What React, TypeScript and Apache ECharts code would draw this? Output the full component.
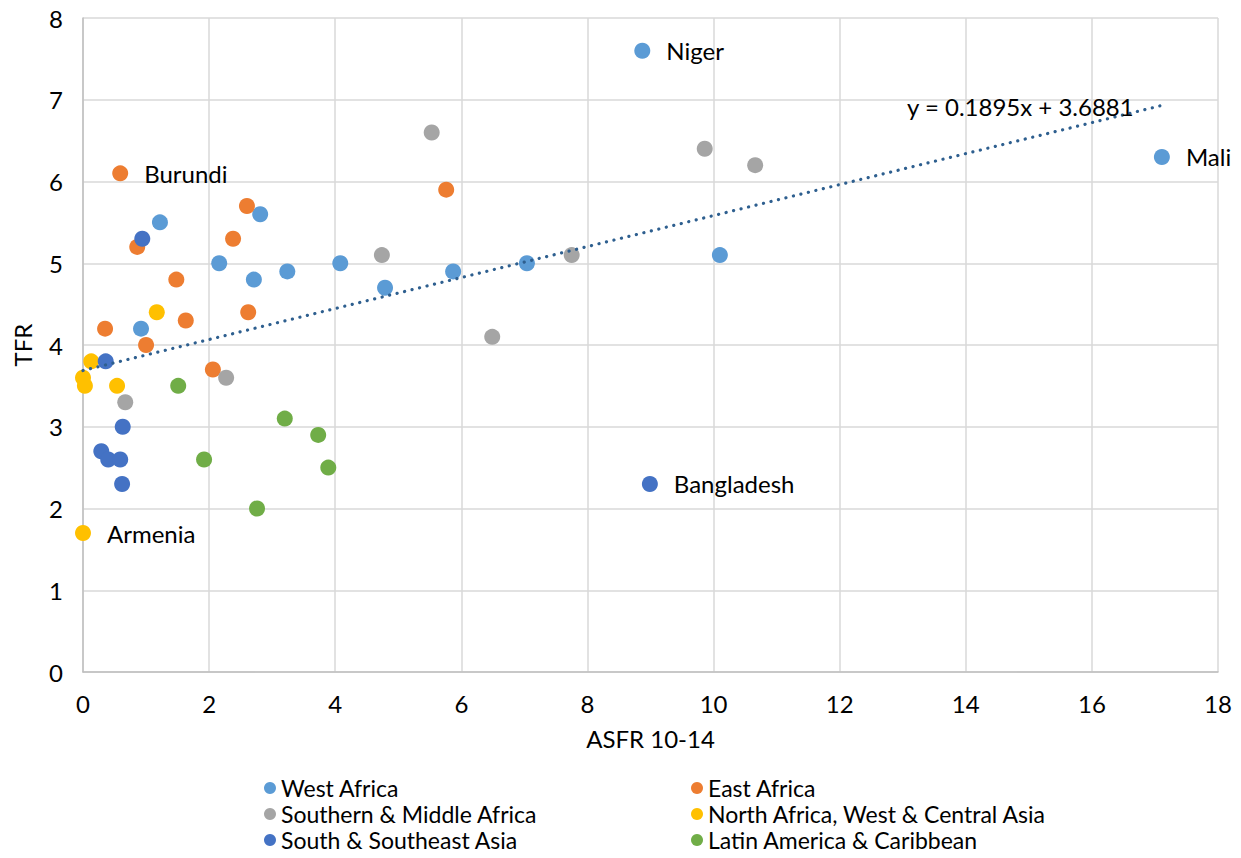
import React, { useEffect, useRef } from "react";
import * as echarts from "echarts";

const FONT = "Lato, 'Open Sans', sans-serif";
const FS = 24;

const seriesNames = [
  "West Africa",
  "East Africa",
  "Southern & Middle Africa",
  "North Africa, West & Central Asia",
  "South & Southeast Asia",
  "Latin America & Caribbean",
];
const colors = ["#5B9BD5", "#ED7D31", "#A5A5A5", "#FFC000", "#4472C4", "#70AD47"];

// [ASFR 10-14, TFR, label]
const westAfrica: [number, number, string?][] = [
  [8.87, 7.6, "Niger"], [17.11, 6.3, "Mali"], [1.22, 5.5], [2.81, 5.6], [2.16, 5.0],
  [2.71, 4.8], [3.24, 4.9], [4.08, 5.0], [4.79, 4.7], [5.87, 4.9], [7.04, 5.0],
  [10.1, 5.1], [0.92, 4.2],
];
const eastAfrica: [number, number, string?][] = [
  [0.59, 6.1, "Burundi"], [5.76, 5.9], [2.6, 5.7], [2.38, 5.3], [0.86, 5.2], [1.48, 4.8],
  [1.63, 4.3], [2.62, 4.4], [0.35, 4.2], [1.0, 4.0], [2.06, 3.7],
];
const southernMiddleAfrica: [number, number, string?][] = [
  [5.53, 6.6], [9.86, 6.4], [10.66, 6.2], [4.74, 5.1], [7.75, 5.1], [6.49, 4.1],
  [2.27, 3.6], [0.67, 3.3],
];
const northAfricaAsia: [number, number, string?][] = [
  [1.17, 4.4], [0.13, 3.8], [0.0, 3.6], [0.03, 3.5], [0.54, 3.5], [0.0, 1.7, "Armenia"],
];
const southAsia: [number, number, string?][] = [
  [0.94, 5.3], [0.36, 3.8], [8.99, 2.3, "Bangladesh"], [0.63, 3.0], [0.29, 2.7],
  [0.4, 2.6], [0.59, 2.6], [0.62, 2.3],
];
const latinAmerica: [number, number, string?][] = [
  [1.51, 3.5], [3.2, 3.1], [3.73, 2.9], [3.89, 2.5], [1.92, 2.6], [2.76, 2.0],
];
const groups = [westAfrica, eastAfrica, southernMiddleAfrica, northAfricaAsia, southAsia, latinAmerica];

const trendSlope = 0.1895;
const trendIntercept = 3.6881;
const trendRange = [0, 17.11];
const equationText = "y = 0.1895x + 3.6881";

const xTicks = { min: 0, max: 18, interval: 2 };
const yTicks = { min: 0, max: 8, interval: 1 };

export default function App() {
  const ref = useRef<HTMLDivElement>(null);
  useEffect(() => {
    if (!ref.current) return;
    const chart = echarts.init(ref.current, null, { renderer: "svg" });
    const scatter = groups.map((g, i) => ({
      name: seriesNames[i],
      type: "scatter",
      symbolSize: 16,
      itemStyle: { color: colors[i], opacity: 1 },
      z: 3,
      data: g.map((p) =>
        p[2]
          ? {
              value: [p[0], p[1]],
              name: p[2],
              label: {
                show: true,
                position: "right",
                distance: 16,
                formatter: "{b}",
                color: "#000",
                fontSize: FS,
                fontFamily: FONT,
              },
            }
          : { value: [p[0], p[1]] }
      ),
    }));
    const trend = {
      name: "trend",
      type: "line",
      symbol: "none",
      silent: true,
      z: 4,
      data: trendRange.map((x) => [x, trendSlope * x + trendIntercept]),
      lineStyle: { color: "#2E5F8F", width: 3.2, type: [0.1, 7.6], cap: "round" },
    };
    const legendText = { fontSize: 23, fontFamily: FONT, color: "#000", lineHeight: 26 };
    const legendCommon = {
      orient: "vertical",
      top: 770,
      height: 100,
      itemGap: 0,
      itemWidth: 12,
      itemHeight: 12,
      icon: "circle",
      textStyle: legendText,
    };
    chart.setOption({
      animation: false,
      backgroundColor: "#fff",
      grid: { left: 83, right: 23, top: 18, bottom: 186, containLabel: false, outerBoundsMode: "none" },
      xAxis: {
        type: "value",
        ...xTicks,
        name: "ASFR 10-14",
        nameLocation: "middle",
        nameGap: 54,
        nameTextStyle: { fontSize: FS, fontFamily: FONT, color: "#000" },
        axisLine: { show: true, lineStyle: { color: "#BFBFBF", width: 1.5 } },
        axisTick: { show: false },
        splitLine: { show: true, lineStyle: { color: "#D9D9D9", width: 1.5 } },
        axisLabel: { fontSize: FS, fontFamily: FONT, color: "#000", margin: 19 },
      },
      yAxis: {
        type: "value",
        ...yTicks,
        name: "TFR",
        nameLocation: "middle",
        nameGap: 49,
        nameTextStyle: { fontSize: FS, fontFamily: FONT, color: "#000" },
        axisLine: { show: true, lineStyle: { color: "#BFBFBF", width: 1.5 } },
        axisTick: { show: false },
        splitLine: { show: true, lineStyle: { color: "#D9D9D9", width: 1.5 } },
        axisLabel: { fontSize: FS, fontFamily: FONT, color: "#000", margin: 20 },
      },
      legend: [
        { ...legendCommon, left: 259, data: [seriesNames[0], seriesNames[2], seriesNames[4]] },
        { ...legendCommon, left: 686, data: [seriesNames[1], seriesNames[3], seriesNames[5]] },
      ],
      graphic: [
        {
          type: "text",
          left: 907,
          top: 94,
          z: 10,
          style: { text: equationText, fontSize: FS, fontFamily: FONT, fill: "#000" },
        },
      ],
      series: [...scatter, trend],
    });
    return () => chart.dispose();
  }, []);
  return (
    <div
      ref={ref}
      style={{ position: "absolute", left: 0, top: 0, width: 1241, height: 858 }}
    />
  );
}
